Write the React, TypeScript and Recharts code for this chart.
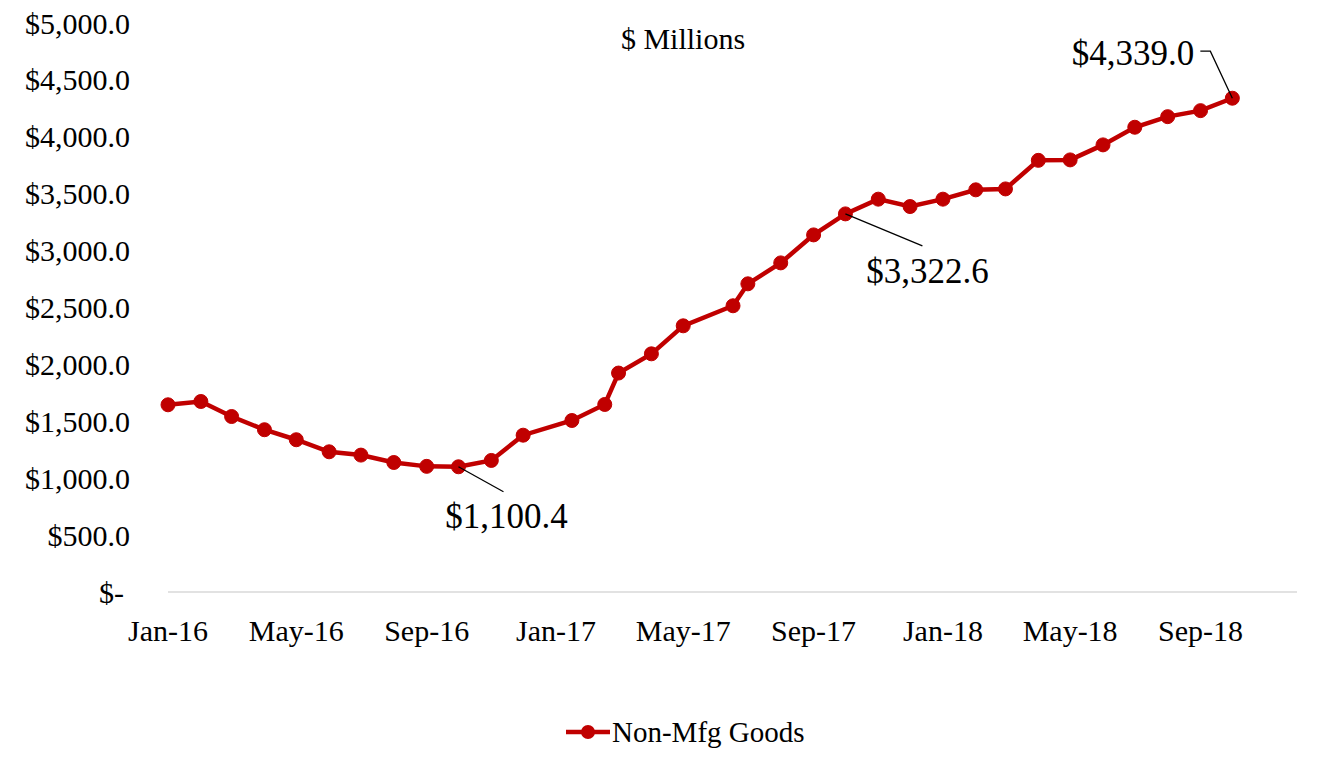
import React from "react";
import { LineChart, Line, XAxis, YAxis, Legend, LabelList } from "recharts";

// monthly values, $ millions (a few readings fall mid-month)
const dates = [
  "2016-01-01", "2016-02-01", "2016-03-01", "2016-04-01", "2016-05-01", "2016-06-01",
  "2016-07-01", "2016-08-01", "2016-09-01", "2016-10-01", "2016-11-01", "2016-12-01",
  "2017-01-16", "2017-02-16", "2017-03-01", "2017-04-01", "2017-05-01", "2017-06-17",
  "2017-07-01", "2017-08-01", "2017-09-01", "2017-10-01", "2017-11-01", "2017-12-01",
  "2018-01-01", "2018-02-01", "2018-03-01", "2018-04-01", "2018-05-01", "2018-06-01",
  "2018-07-01", "2018-08-01", "2018-09-01", "2018-10-01",
];
const nonMfgGoods = [
  1645, 1674, 1542, 1426, 1338, 1232,
  1203, 1138, 1104, 1100.4, 1156, 1378,
  1507, 1648, 1924, 2093, 2339, 2515,
  2708, 2892, 3138, 3322.6, 3452, 3387,
  3452, 3534, 3542, 3793, 3797, 3929,
  4084, 4177, 4230, 4339.0,
];
const xTickDates = [
  "2016-01-01", "2016-05-01", "2016-09-01", "2017-01-01", "2017-05-01",
  "2017-09-01", "2018-01-01", "2018-05-01", "2018-09-01",
];
const xDomainDates = ["2016-01-01", "2018-12-01"];
const yTicks = [0, 500, 1000, 1500, 2000, 2500, 3000, 3500, 4000, 4500, 5000];
const labeledDates = ["2016-10-01", "2017-10-01", "2018-10-01"];

const MONTHS = ["Jan", "Feb", "Mar", "Apr", "May", "Jun", "Jul", "Aug", "Sep", "Oct", "Nov", "Dec"];
const FONT = '"Liberation Serif", "Times New Roman", serif';
const RED = "#C00000";

const data = dates.map((d, i) => ({ t: Date.parse(d), value: nonMfgGoods[i] }));

const fmtMoney = (v: number) =>
  "$" + v.toLocaleString("en-US", { minimumFractionDigits: 1, maximumFractionDigits: 1 });

const fmtMonth = (ms: number) => {
  const d = new Date(ms);
  return `${MONTHS[d.getUTCMonth()]}-${String(d.getUTCFullYear()).slice(2)}`;
};

// leader line + text placement, relative to the point
const calloutStyle: Record<string, { path: number[][]; tx: number; ty: number; anchor: string }> = {
  "2016-10-01": { path: [[0, 0], [45, 25]], tx: 48, ty: 49, anchor: "middle" },
  "2017-10-01": { path: [[0, 0], [77, 32]], tx: 82, ty: 57, anchor: "middle" },
  "2018-10-01": { path: [[0, 0], [-22, -47], [-32, -47]], tx: -38, ty: -45, anchor: "end" },
};

const Callout = (props: any) => {
  const { x, y, index } = props;
  const key = dates[index];
  if (!labeledDates.includes(key)) return null;
  const s = calloutStyle[key];
  const pts = s.path.map(([dx, dy]) => `${x + dx},${y + dy}`).join(" ");
  return (
    <g>
      <polyline points={pts} fill="none" stroke="#000" strokeWidth={1.3} />
      <text
        x={x + s.tx}
        y={y + s.ty}
        dy="0.35em"
        textAnchor={s.anchor as any}
        fontFamily={FONT}
        fontSize={35}
        fill="#000"
      >
        {fmtMoney(nonMfgGoods[index])}
      </text>
    </g>
  );
};

const YTick = (props: any) => {
  const { x, y, payload } = props;
  const v = payload.value;
  return (
    <text
      x={v === 0 ? x - 6 : x}
      y={y}
      dy="0.35em"
      textAnchor="end"
      fontFamily={FONT}
      fontSize={30}
      fill="#000"
    >
      {v === 0 ? "$-" : fmtMoney(v)}
    </text>
  );
};

const LegendContent = () => (
  <div style={{ display: "flex", alignItems: "center", height: 40 }}>
    <svg width={44} height={20}>
      <line x1={0} y1={10} x2={44} y2={10} stroke={RED} strokeWidth={4.5} />
      <circle cx={22} cy={10} r={7} fill={RED} />
    </svg>
    <span style={{ fontFamily: FONT, fontSize: 29, color: "#000", marginLeft: 2 }}>
      Non-Mfg Goods
    </span>
  </div>
);

export default function App() {
  return (
    <div style={{ position: "absolute", left: 0, top: 0, width: 1334, height: 761, background: "#fff" }}>
      <div
        style={{
          position: "absolute",
          left: 583,
          top: 22,
          width: 200,
          textAlign: "center",
          fontFamily: FONT,
          fontSize: 30,
          color: "#000",
        }}
      >
        $ Millions
      </div>
      <LineChart
        width={1334}
        height={761}
        data={data}
        margin={{ top: 23, right: 37, bottom: 9, left: 0 }}
      >
        <XAxis
          dataKey="t"
          type="number"
          scale="linear"
          domain={xDomainDates.map((d) => Date.parse(d))}
          ticks={xTickDates.map((d) => Date.parse(d))}
          tickFormatter={fmtMonth}
          interval={0}
          height={120}
          tickSize={0}
          tickMargin={28}
          axisLine={{ stroke: "#d9d9d9", strokeWidth: 1.5 }}
          tick={{ fontFamily: FONT, fontSize: 30, fill: "#000" }}
        />
        <YAxis
          domain={[0, 5000]}
          ticks={yTicks}
          width={168}
          axisLine={false}
          tickLine={false}
          tickSize={0}
          tickMargin={38}
          tick={<YTick />}
        />
        <Legend
          verticalAlign="bottom"
          content={<LegendContent />}
          wrapperStyle={{ left: 566, width: 260, height: 40, bottom: 9 }}
        />
        <Line
          dataKey="value"
          name="Non-Mfg Goods"
          stroke={RED}
          strokeWidth={4.5}
          dot={{ r: 7, fill: RED, stroke: RED, strokeWidth: 1 }}
          activeDot={false}
          isAnimationActive={false}
        >
          <LabelList dataKey="value" content={<Callout />} />
        </Line>
      </LineChart>
    </div>
  );
}
